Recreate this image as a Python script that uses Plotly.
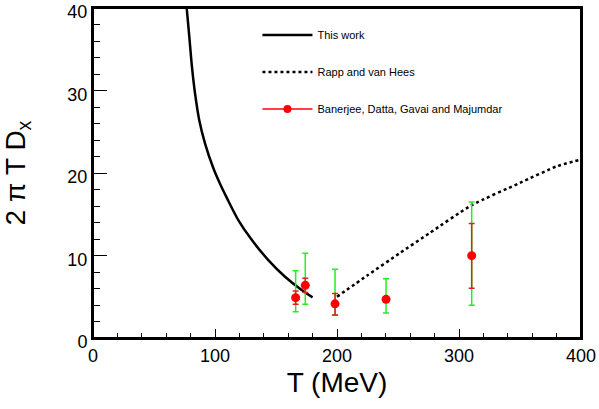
import plotly.graph_objects as go

# "This work" curve
this_T = [76.8, 78.9, 81.1, 83.6, 87.1, 91.8, 98.6, 104.1, 110.0, 119.1, 130.1, 143.7, 157.4, 171.0, 180.0]
this_D = [40.0, 36.6, 32.9, 29.7, 26.4, 23.6, 20.6, 18.7, 16.9, 14.3, 11.9, 9.45, 7.43, 5.82, 4.93]

# Rapp and van Hees
rapp_T = [200.0, 225.0, 251.6, 275.7, 310.4, 350.0, 380.0, 399.0]
rapp_D = [5.0, 7.6, 10.3, 12.7, 16.1, 18.8, 20.8, 21.6]

# Banerjee, Datta, Gavai and Majumdar
lat_T = [166.1, 174.0, 198.4, 240.2, 310.4]
lat_D = [4.89, 6.38, 4.14, 4.69, 9.98]
stat_plus = [0.8, 0.85, 1.25, 0.3, 3.9]
stat_minus = [0.8, 0.85, 1.35, 0.3, 3.95]
tot_plus = [3.27, 3.88, 4.18, 2.5, 6.5]
tot_minus = [1.7, 2.3, 1.38, 1.65, 6.0]

FONT = "Liberation Sans, Arial, sans-serif"

fig = go.Figure()

fig.add_trace(go.Scatter(
    x=this_T, y=this_D, mode="lines", name="This work",
    line=dict(color="black", width=2.5, shape="spline", smoothing=0.8), legendgroup="a"))

fig.add_trace(go.Scatter(
    x=rapp_T, y=rapp_D, mode="lines", name="Rapp and van Hees",
    line=dict(color="black", width=2.5, dash="3px,3px", shape="spline", smoothing=0.6),
    legendgroup="b"))

# total errors (green)
fig.add_trace(go.Scatter(
    x=lat_T, y=lat_D, mode="markers", showlegend=False,
    marker=dict(color="rgba(0,0,0,0)", size=1),
    error_y=dict(type="data", symmetric=False, array=tot_plus, arrayminus=tot_minus,
                 color="#22ee22", thickness=1.5, width=3)))

# stat errors (red) + points
fig.add_trace(go.Scatter(
    x=lat_T, y=lat_D, mode="markers", showlegend=False,
    marker=dict(color="red", size=9),
    error_y=dict(type="data", symmetric=False, array=stat_plus, arrayminus=stat_minus,
                 color="#dd2222", thickness=1.5, width=3)))

# legend entry for data points
fig.add_trace(go.Scatter(
    x=[None], y=[None], mode="lines+markers", name="Banerjee, Datta, Gavai and Majumdar",
    line=dict(color="red", width=1.5), marker=dict(color="red", size=8), legendgroup="c"))

fig.update_layout(
    width=599, height=409,
    margin=dict(l=93, r=18, t=8, b=71, autoexpand=False),
    paper_bgcolor="white", plot_bgcolor="white",
    font=dict(family=FONT, color="black"),
    showlegend=True,
    legend=dict(x=0.337, y=0.962, xanchor="left", yanchor="top",
                bgcolor="rgba(0,0,0,0)", font=dict(size=11, family=FONT),
                tracegroupgap=18, itemwidth=50),
    shapes=[dict(type="rect", xref="paper", yref="paper", x0=0, x1=1, y0=0, y1=1,
                 line=dict(color="black", width=2), fillcolor="rgba(0,0,0,0)", layer="above")],
    xaxis=dict(range=[0, 400], dtick=100, showline=True, linecolor="black", linewidth=2,
               mirror=True, ticks="inside", ticklen=9, tickwidth=1, tickcolor="black",
               minor=dict(dtick=20, ticks="inside", ticklen=5, tickcolor="black"),
               showgrid=False, zeroline=False, automargin=False, ticklabeloverflow="allow",
               tickfont=dict(size=18, family=FONT),
               title=dict(text="T (MeV)", font=dict(size=28, family=FONT), standoff=8)),
    yaxis=dict(range=[0, 40], dtick=10, showline=True, linecolor="black", linewidth=2,
               mirror=True, ticks="inside", ticklen=14, tickwidth=1, tickcolor="black",
               minor=dict(dtick=2, ticks="inside", ticklen=7, tickcolor="black"),
               showgrid=False, zeroline=False, automargin=False, ticklabeloverflow="allow",
               ticklabelshift=4,
               tickfont=dict(size=18, family=FONT),
               title=dict(text="2 π T D<sub>x</sub>", font=dict(size=28, family=FONT), standoff=36)),
)

fig.write_html("out.html", config={"displayModeBar": False},
               post_script="document.body.style.margin='0';document.body.style.overflow='hidden';")
